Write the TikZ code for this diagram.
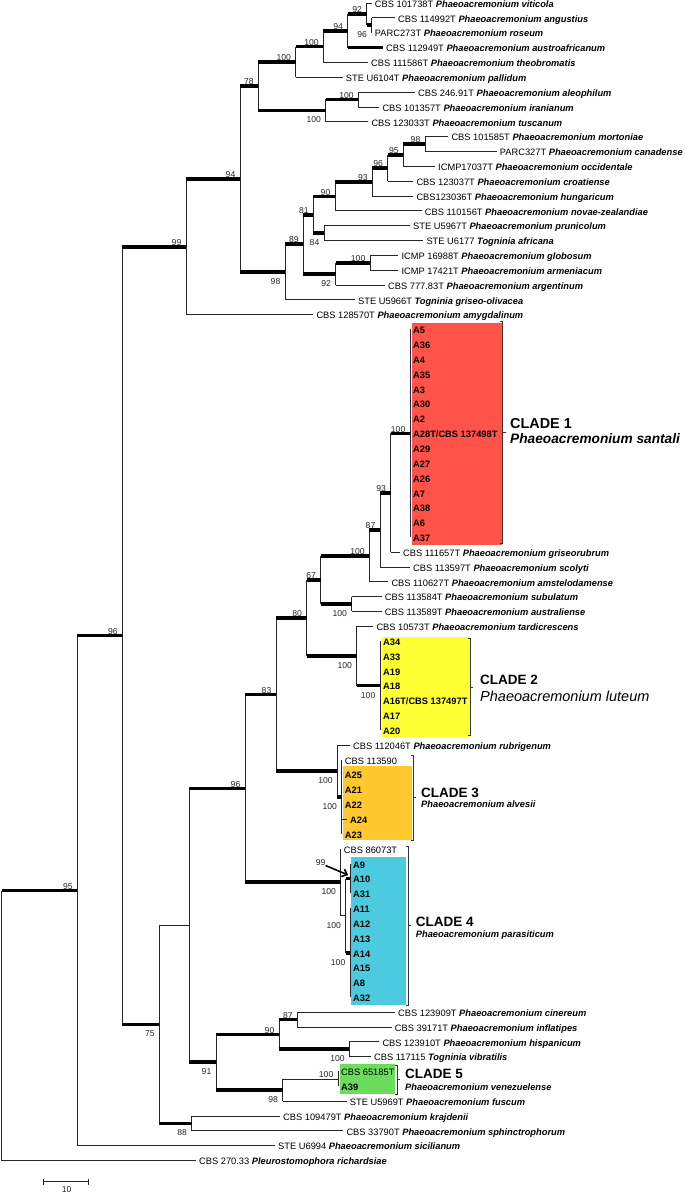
\documentclass[tikz,border=0pt]{standalone}
\usepackage{fontspec}
\setmainfont{Liberation Sans}
\usetikzlibrary{arrows.meta}

\definecolor{cladeone}{RGB}{255,82,72}
\definecolor{cladetwo}{RGB}{255,255,51}
\definecolor{cladethree}{RGB}{255,200,46}
\definecolor{cladefour}{RGB}{76,202,224}
\definecolor{cladefive}{RGB}{108,220,92}

\newcommand{\spn}[1]{\textbf{\textit{#1}}}
\newcommand{\cladebrace}[3]{%
	\draw[brk] (#1-2.5,#2) -- (#1,#2) -- (#1,#3) -- (#1-2.5,#3);
	\draw[brk] (#1,{(#2+#3)/2}) -- (#1+3,{(#2+#3)/2});
}

\tikzset{
	leaf/.style = {anchor=west, inner xsep=3pt, inner ysep=0pt, text height=10.6pt, text depth=2pt, font={\fontsize{9.3}{11}\selectfont}},
	cleaf/.style = {leaf, font={\fontsize{9.3}{11}\selectfont\bfseries}},
	br/.style = {line width=0.75pt, black!85},
	thickbr/.style = {line width=3.6pt, black},
	brk/.style = {line width=0.8pt, black!80},
	bsa/.style = {anchor=south east, inner sep=0pt, xshift=-4.5pt, yshift=1pt, text=black!85, font={\fontsize{8.6}{10}\selectfont}},
	bsb/.style = {anchor=north east, inner sep=0pt, xshift=-4.5pt, yshift=-6.2pt, text=black!85, font={\fontsize{8.6}{10}\selectfont}},
	cladehd/.style = {anchor=base west, inner sep=0pt, font={\fontsize{13.5}{15}\selectfont\bfseries}},
	cladesp/.style = {anchor=base west, inner sep=0pt, font={\fontsize{9.3}{11}\selectfont\bfseries\itshape}},
	bsarrow/.style = {line width=1.6pt, -{Straight Barb[length=4.5pt,width=8pt]}}
}

\begin{document}
\begin{tikzpicture}[x=1pt, y=-1pt, declare function={rw(\r)=3+14.84*\r;}]
\useasboundingbox (0,0) rectangle (685,1194);

% clade boxes
\fill[cladeone] (411.7,323.3) rectangle (501.7,545);
\fill[cladetwo] (381.5,636.7) rectangle (469.3,736.7);
\fill[cladethree] (342.7,766) rectangle (412.3,840);
\fill[cladefour] (350.7,856.7) rectangle (406,1005);
\fill[cladefive] (340,1064.3) rectangle (395,1094);

% internal nodes
\foreach \n/\x/\r in {n96t/371.7/1.5, n92/366.7/0.75, n94t/347.7/1.875, n100a/323.3/2.9375,
	n100b/295.7/3.969, n100d/358.3/6.5, n100c/325.7/7.25, n78/258.3/5.609,
	n98c/425/9.5, n95b/403.3/10.25, n96b/387.7/11.125, n93/372.3/12.0625, n90/335/13.031,
	n84/324/15.5, n81/313.3/14.266, n100e/370/17.5, n92b/335.7/18.25, n89/303.3/16.258,
	n98b/285/18.129, n94/240/11.869, n99/186/16.435,
	cl1/410/29, n93c/390.7/33, n87/380/35.5, n100m/369.3/37.25, n100s/351.7/40.5,
	n67/320.7/38.875, cl2/380/46, n100t/356.7/44, n80/306.7/41.4375,
	cl3/341.7/53.5, n100p/337.3/51.75, n83/276/46.594,
	ny/350/59, nz/350/64, nx/345.7/61.5, cl4/340.7/59.25, n96c/245/52.922,
	n87b/297.3/68.5, n100h/349.3/70.5, n90b/279/69.5, cl5/338/72.5, n98d/282.7/73.25,
	n91/216/71.375, nu/189/62.148, n88/191.7/75.5, n75/159.3/68.824,
	n96a/122.3/42.63, n95/77.3/59.81, root/1.7/68.9}
{
	\coordinate (\n) at (\x,{rw(\r)});
}

% taxa
\foreach \n/\x/\r/\t in {
	viticola/371.7/0/{CBS 101738T \spn{Phaeoacremonium viticola}},
	angustius/395/1/{CBS 114992T \spn{Phaeoacremonium angustius}},
	roseum/371.7/2/{PARC273T \spn{Phaeoacremonium roseum}},
	austroafr/383/3/{CBS 112949T \spn{Phaeoacremonium austroafricanum}},
	theobrom/368/4/{CBS 111586T \spn{Phaeoacremonium theobromatis}},
	pallidum/342.7/5/{STE U6104T \spn{Phaeoacremonium pallidum}},
	aleophil/415/6/{CBS 246.91T \spn{Phaeoacremonium aleophilum}},
	iranian/379.3/7/{CBS 101357T \spn{Phaeoacremonium iranianum}},
	tuscan/368.3/8/{CBS 123033T \spn{Phaeoacremonium tuscanum}},
	morton/448.3/9/{CBS 101585T \spn{Phaeoacremonium mortoniae}},
	canad/496.7/10/{PARC327T \spn{Phaeoacremonium canadense}},
	occid/435/11/{ICMP17037T \spn{Phaeoacremonium occidentale}},
	croat/413.3/12/{CBS 123037T \spn{Phaeoacremonium croatiense}},
	hungar/413.3/13/{CBS123036T \spn{Phaeoacremonium hungaricum}},
	novae/421.7/14/{CBS 110156T \spn{Phaeoacremonium novae-zealandiae}},
	prunic/410/15/{STE U5967T \spn{Phaeoacremonium prunicolum}},
	african/423.3/16/{STE U6177 \spn{Togninia africana}},
	globos/398.3/17/{ICMP 16988T \spn{Phaeoacremonium globosum}},
	armen/398.3/18/{ICMP 17421T \spn{Phaeoacremonium armeniacum}},
	argent/385/19/{CBS 777.83T \spn{Phaeoacremonium argentinum}},
	griseool/355/20/{STE U5966T \spn{Togninia griseo-olivacea}},
	amygdal/313.3/21/{CBS 128570T \spn{Phaeoacremonium amygdalinum}},
	griseor/400/37/{CBS 111657T \spn{Phaeoacremonium griseorubrum}},
	scolyti/410/38/{CBS 113597T \spn{Phaeoacremonium scolyti}},
	amstel/388.3/39/{CBS 110627T \spn{Phaeoacremonium amstelodamense}},
	subul/381.7/40/{CBS 113584T \spn{Phaeoacremonium subulatum}},
	austral/381.7/41/{CBS 113589T \spn{Phaeoacremonium australiense}},
	tardi/373.3/42/{CBS 10573T \spn{Phaeoacremonium tardicrescens}},
	rubrig/350/50/{CBS 112046T \spn{Phaeoacremonium rubrigenum}},
	cinere/395/68/{CBS 123909T \spn{Phaeoacremonium cinereum}},
	inflat/391.7/69/{CBS 39171T \spn{Phaeoacremonium inflatipes}},
	hispan/379.3/70/{CBS 123910T \spn{Phaeoacremonium hispanicum}},
	vibrat/371/71/{CBS 117115 \spn{Togninia vibratilis}},
	fuscum/346.7/74/{STE U5969T \spn{Phaeoacremonium fuscum}},
	krajd/280/75/{CBS 109479T \spn{Phaeoacremonium krajdenii}},
	sphinct/343.3/76/{CBS 33790T \spn{Phaeoacremonium sphinctrophorum}},
	sicil/275/77/{STE U6994 \spn{Phaeoacremonium sicilianum}},
	richard/196/78/{CBS 270.33 \spn{Pleurostomophora richardsiae}}}
{
	\node[leaf] (\n) at (\x,{rw(\r)}) {\t};
}

% isolates inside the clades
\foreach \t [count=\i from 22] in {A5,A36,A4,A35,A3,A30,A2,A28T/CBS 137498T,A29,A27,A26,A7,A38,A6,A37}
	\node[cleaf] (k\i) at (410,{rw(\i)}) {\t};
\foreach \t [count=\i from 43] in {A34,A33,A19,A18,A16T/CBS 137497T,A17,A20}
	\node[cleaf] (k\i) at (380,{rw(\i)}) {\t};
\node[leaf] (k51) at (341.7,{rw(51)}) {CBS 113590};
\foreach \t [count=\i from 52] in {A25,A21,A22}
	\node[cleaf] (k\i) at (341.7,{rw(\i)}) {\t};
\node[cleaf] (k55) at (347,{rw(55)}) {A24};
\node[cleaf] (k56) at (341.7,{rw(56)}) {A23};
\node[leaf] (k57) at (340.7,{rw(57)}) {CBS 86073T};
\foreach \t [count=\i from 58] in {A9,A10,A31,A11,A12,A13,A14,A15,A8,A32}
	\node[cleaf] (k\i) at (350,{rw(\i)}) {\t};
\node[leaf] (k72) at (338,{rw(72)}) {CBS 65185T};
\node[cleaf] (k73) at (338,{rw(73)}) {A39};

% vertical parts
\foreach \p/\a/\b in {n96t/angustius/roseum, n92/viticola/n96t, n94t/n92/austroafr,
	n100a/n94t/theobrom, n100b/n100a/pallidum, n100d/aleophil/iranian, n100c/n100d/tuscan,
	n78/n100b/n100c, n98c/morton/canad, n95b/n98c/occid, n96b/n95b/croat, n93/n96b/hungar,
	n90/n93/novae, n84/prunic/african, n81/n90/n84, n100e/globos/armen, n92b/n100e/argent,
	n89/n81/n92b, n98b/n89/griseool, n94/n78/n98b, n99/n94/amygdal,
	cl1/k22/k36, n93c/cl1/griseor, n87/n93c/scolyti, n100m/n87/amstel, n100s/subul/austral,
	n67/n100m/n100s, cl2/k43/k49, n100t/tardi/cl2, n80/n67/n100t, cl3/k51/k56,
	n100p/rubrig/cl3, n83/n80/n100p, ny/k58/k60, nz/k61/k67, nx/ny/nz, cl4/k57/nx,
	n96c/n83/cl4, n87b/cinere/inflat, n100h/hispan/vibrat, n90b/n87b/n100h, cl5/k72/k73,
	n98d/cl5/fuscum, n91/n90b/n98d, nu/n96c/n91, n88/krajd/sphinct, n75/nu/n88,
	n96a/n99/n75, n95/n96a/sicil, root/n95/richard}
{
	\draw[br] (\p |- \a) -- (\p |- \b);
}

% thin branches
\foreach \p/\c in {n92/viticola, n96t/angustius, n100a/theobrom, n100b/pallidum,
	n100d/aleophil, n100d/iranian, n100c/tuscan, n98c/morton, n98c/canad, n95b/occid,
	n96b/croat, n93/hungar, n90/novae, n84/prunic, n84/african, n100e/globos, n100e/armen,
	n92b/argent, n98b/griseool, n99/amygdal, n93c/griseor, n87/scolyti, n100m/amstel,
	n100s/subul, n100s/austral, n100t/tardi, n100p/rubrig, cl3/k55, cl4/nx,
	n87b/cinere, n87b/inflat, n100h/hispan, n100h/vibrat, n98d/cl5, n98d/fuscum,
	n75/nu, n88/krajd, n88/sphinct, n95/sicil, root/richard}
{
	\draw[br] (\p |- \c) -- (\c);
}

% supported branches
\foreach \p/\c in {n92/n96t, n94t/n92, n94t/austroafr, n100a/n94t, n100b/n100a,
	n78/n100b, n78/n100c, n100c/n100d, n96b/n95b, n95b/n98c, n93/n96b, n90/n93,
	n81/n90, n81/n84, n89/n81, n89/n92b, n92b/n100e, n98b/n89, n94/n78, n94/n98b,
	n99/n94, n96a/n99, n96a/n75, n95/n96a, root/n95, n93c/cl1, n87/n93c, n100m/n87,
	n67/n100m, n67/n100s, n80/n67, n80/n100t, n100t/cl2, n83/n80, n83/n100p,
	n100p/cl3, n96c/n83, n96c/cl4, nx/ny, nx/nz, nu/n96c, nu/n91, n91/n90b,
	n91/n98d, n90b/n87b, n90b/n100h, n75/n88}
{
	\draw[thickbr] (\p |- \c) -- (\c);
}

% bootstrap values
\foreach \n/\v in {n92/92, n94t/94, n100a/100, n100b/100, n78/78, n100d/100, n98c/98,
	n95b/95, n96b/96, n93/93, n90/90, n81/81, n89/89, n100e/100, n94/94, n99/99,
	n96a/96, n95/95, cl1/100, n93c/93, n87/87, n100m/100, n67/67, n80/80, n83/83,
	n96c/96, n87b/87, n90b/90, cl5/100}
	\node[bsa] (b\n) at (\n) {\v};
\foreach \n/\v in {n96t/96, n100c/100, n84/84, n92b/92, n98b/98, n100s/100, n100t/100,
	cl2/100, n100p/100, cl3/100, cl4/100, nx/100, nz/100, n75/75, n91/91, n98d/98,
	n100h/100, n88/88}
	\node[bsb] (b\n) at (\n) {\v};
\node[inner sep=0pt, text=black!85, font={\fontsize{8.6}{10}\selectfont}] (bny) at (320.7,862.3) {99};
\draw[bsarrow] (bny.south east) -- ([xshift=-1.8pt,yshift=3.5pt]ny);

% clade brackets and names
\cladebrace{502.7}{321.7}{543.3}
\cladebrace{470}{638.3}{735.7}
\cladebrace{413.3}{755}{840}
\cladebrace{408.3}{846.7}{1005}
\cladebrace{397.3}{1065}{1094}

\node[cladehd, font={\fontsize{14.4}{16}\selectfont\bfseries}] (hd1) at (510,428.3) {CLADE 1};
\node[cladesp, font={\fontsize{13.7}{16}\selectfont\bfseries\itshape}] (sp1) at (510,443.2) {Phaeoacremonium santali};
\node[cladehd] (hd2) at (480,684.2) {CLADE 2};
\node[cladesp, font={\fontsize{14.5}{16}\selectfont\itshape}] (sp2) at (480,701.3) {Phaeoacremonium luteum};
\node[cladehd] (hd3) at (421,797.2) {CLADE 3};
\node[cladesp] (sp3) at (421,807.3) {Phaeoacremonium alvesii};
\node[cladehd] (hd4) at (415.7,926.5) {CLADE 4};
\node[cladesp] (sp4) at (415.7,937.6) {Phaeoacremonium parasiticum};
\node[cladehd] (hd5) at (405,1078.8) {CLADE 5};
\node[cladesp] (sp5) at (405,1090.6) {Phaeoacremonium venezuelense};

% scale bar
\coordinate (sbl) at (43.3,1181.7);
\coordinate (sbr) at (88.3,1181.7);
\draw[br] (sbl) -- (sbr);
\draw[br] ([yshift=3pt]sbl) -- ([yshift=-3pt]sbl);
\draw[br] ([yshift=3pt]sbr) -- ([yshift=-3pt]sbr);
\node[inner sep=0pt, text=black!85, font={\fontsize{8.6}{10}\selectfont}] (sbt) at (66.7,1190) {10};
\end{tikzpicture}
\end{document}
